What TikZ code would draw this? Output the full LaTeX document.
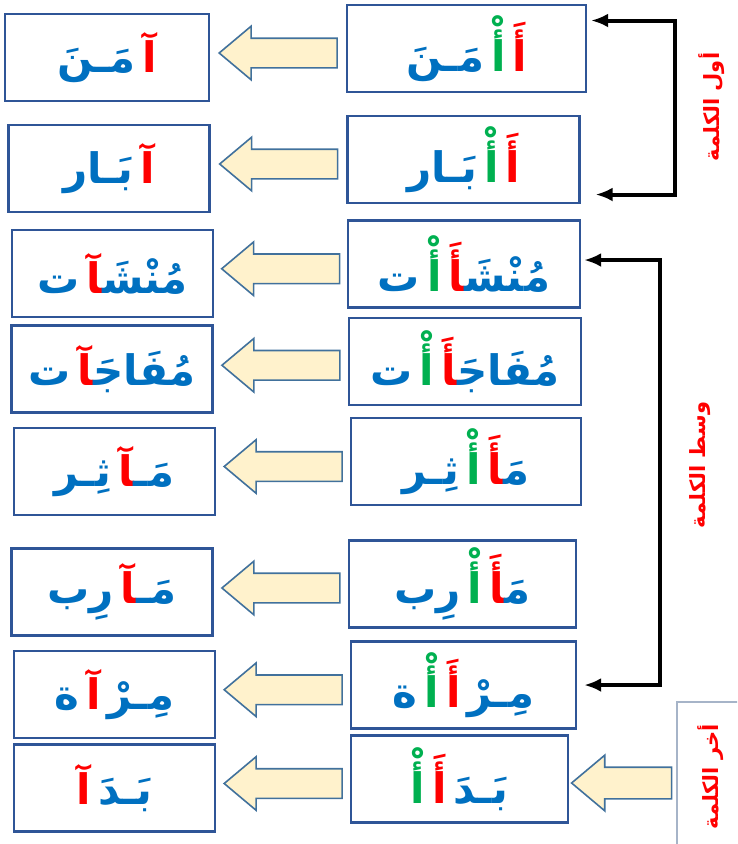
\documentclass[tikz,border=0pt]{standalone}
\usepackage{fontspec}
\usepackage{xcolor}
\usetikzlibrary{shapes.arrows,arrows.meta,calc}
\TeXXeTstate=1
\newfontfamily\arabicfont[Script=Arabic]{DejaVu Sans}
\definecolor{wblue}{HTML}{0070C0}
\definecolor{wred}{HTML}{FF0000}
\definecolor{wgreen}{HTML}{00B050}
\definecolor{boxedge}{HTML}{2F5597}
\definecolor{arrowedge}{HTML}{41719C}
\definecolor{arrowfill}{HTML}{FFF2CC}
\definecolor{lastedge}{HTML}{A6B4C8}
\newcommand{\zj}{^^^^200d}
\newcommand{\gp}{\kern7pt}
\newcommand{\bl}[1]{\textcolor{wblue}{#1}}
\newcommand{\rd}[1]{\textcolor{wred}{#1}}
\newcommand{\gr}[1]{\textcolor{wgreen}{#1}}
\begin{document}
\begin{tikzpicture}[x=1pt,y=-1pt]
\tikzset{wordbox/.style={draw=boxedge, line width=2.4pt, minimum height=87pt, inner sep=0pt, font=\arabicfont\bfseries\fontsize{42}{48}\selectfont},
  rbox/.style={wordbox, minimum width=232pt},
  lbox/.style={wordbox, minimum width=201pt},
  blockarrow/.style={single arrow, draw=arrowedge, fill=arrowfill, line width=1.6pt, minimum height=118pt, inner xsep=0pt, inner ysep=14pt, single arrow head extend=12pt, single arrow tip angle=80, shape border rotate=180, xshift=9pt},
  brk/.style={line width=4pt, {Latex[length=17pt,width=14pt]}-{Latex[length=17pt,width=14pt]}},
  sidelabel/.style={text=wred, rotate=90, font=\arabicfont\bfseries\fontsize{21}{24}\selectfont}}
\clip (0,0) rectangle (737,844);
% right column: the words as written
\node[rbox, minimum width=239pt] (R1) at (466.5,48.5) {\bl{مَـنَ}\gp\gr{أْ}\gp\rd{أَ}};
\node[rbox] (R2) at (463.5,159.5) {\bl{بَـار}\gp\gr{أْ}\gp\rd{أَ}};
\node[rbox] (R3) at (464,264) {\bl{ت}\gp\gr{أْ}\gp\rd{\zj أَ}\bl{مُنْشَ\zj}};
\node[rbox] (R4) at (465,361.5) {\bl{ت}\gp\gr{أْ}\gp\rd{\zj أَ}\bl{مُفَاجَ\zj}};
\node[rbox, minimum width=230pt] (R5) at (466,461.5) {\bl{ثِـر}\gp\gr{أْ}\gp\rd{\zj أَ}\bl{مَ\zj}};
\node[rbox, minimum width=227pt] (R6) at (462.5,584) {\bl{رِب}\gp\gr{أْ}\gp\rd{\zj أَ}\bl{مَ\zj}};
\node[rbox, minimum width=225pt] (R7) at (463.5,685) {\bl{ة}\gp\gr{أْ}\gp\rd{أَ}\gp\bl{مِـرْ}};
\node[rbox, minimum width=217pt] (R8) at (459.5,779) {\gr{أْ}\gp\rd{أَ}\gp\bl{بَـدَ}};
% left column: with the madda
\node[lbox, minimum width=204pt] (L1) at (107,57.5) {\bl{مَـنَ}\gp\rd{آ}};
\node[lbox] (L2) at (109,168.5) {\bl{بَـار}\gp\rd{آ}};
\node[lbox] (L3) at (112.5,273.5) {\bl{ت}\gp\rd{\zj آ}\bl{مُنْشَ\zj}};
\node[lbox] (L4) at (112,369) {\bl{ت}\gp\rd{\zj آ}\bl{مُفَاجَ\zj}};
\node[lbox] (L5) at (114.5,471.5) {\bl{ثِـر}\gp\rd{\zj آ}\bl{مَـ\zj}};
\node[lbox] (L6) at (112,592) {\bl{رِب}\gp\rd{\zj آ}\bl{مَـ\zj}};
\node[lbox] (L7) at (114.5,694.5) {\bl{ة}\gp\rd{آ}\gp\bl{مِـرْ}};
\node[lbox] (L8) at (114.5,788) {\rd{آ}\gp\bl{بَـدَ}};
% block arrows
\node[blockarrow] (A1) at ($(L1.east)!0.5!(R1.west)$) {};
\node[blockarrow] (A2) at ($(L2.east)!0.5!(R2.west)$) {};
\node[blockarrow] (A3) at ($(L3.east)!0.5!(R3.west)$) {};
\node[blockarrow] (A4) at ($(L4.east)!0.5!(R4.west)$) {};
\node[blockarrow] (A5) at ($(L5.east)!0.5!(R5.west)$) {};
\node[blockarrow] (A6) at ($(L6.east)!0.5!(R6.west)$) {};
\node[blockarrow] (A7) at ($(L7.east)!0.5!(R7.west)$) {};
\node[blockarrow] (A8) at ($(L8.east)!0.5!(R8.west)$) {};
% side brackets
\coordinate (b1) at (675,100);
\coordinate (b2) at (660,470);
\draw[brk] ([xshift=4pt,yshift=28pt]R1.east) -| (b1) |- ([xshift=15pt,yshift=-35pt]R2.east);
\draw[brk] ([xshift=3pt,yshift=4pt]R3.east) -| (b2) |- ([xshift=7pt]R7.east);
\node[sidelabel] (first) at (712,107) {\beginR أول الكلمة\endR};
\node[sidelabel] (middle) at (700,465) {\beginR وسط الكلمة\endR};
\node[sidelabel, draw=lastedge, line width=1.6pt, minimum width=150pt, minimum height=68pt] (last) at (711,777) {\beginR أخر الكلمة\endR};
\node[blockarrow, minimum height=100pt, inner ysep=15pt] (A9) at (622,783) {};
\end{tikzpicture}
\end{document}
